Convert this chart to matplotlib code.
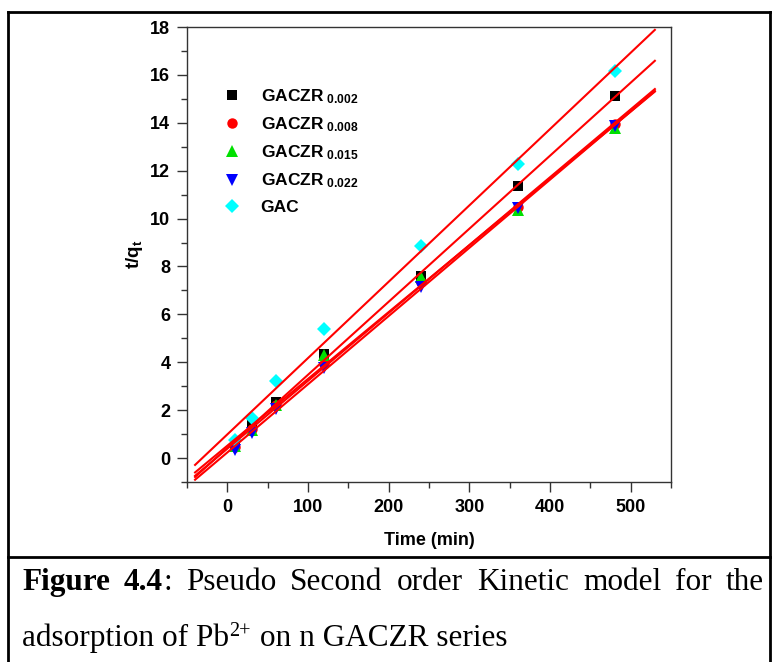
import numpy as np
import matplotlib
matplotlib.use("Agg")
import matplotlib.pyplot as plt
from matplotlib.lines import Line2D

plt.rcParams['mathtext.fontset'] = 'custom'
plt.rcParams['mathtext.rm'] = 'Liberation Sans:bold'
plt.rcParams['mathtext.bf'] = 'Liberation Sans:bold'
plt.rcParams['mathtext.it'] = 'Liberation Sans:bold'

# ---------------- data ----------------
time_min = [10, 30, 60, 120, 240, 360, 480]
series_names = ["GACZR 0.002", "GACZR 0.008", "GACZR 0.015", "GACZR 0.022", "GAC"]
gaczr_002 = [0.50, 1.39, 2.34, 4.36, 7.59, 11.36, 15.10]
gaczr_008 = [0.45, 1.20, 2.20, 3.94, 7.35, 10.50, 13.94]
gaczr_015 = [0.50, 1.18, 2.20, 4.29, 7.56, 10.35, 13.80]
gaczr_022 = [0.35, 1.04, 2.06, 3.76, 7.14, 10.45, 13.86]
gac = [0.77, 1.69, 3.20, 5.40, 8.84, 12.30, 16.15]
fit_range = [-40, 530]
x_ticks = [0, 100, 200, 300, 400, 500]
y_ticks = [0, 2, 4, 6, 8, 10, 12, 14, 16, 18]

W, H = 772, 662
fig = plt.figure(figsize=(W / 100, H / 100), dpi=100)
ax = fig.add_axes([187 / W, (H - 482) / H, 484 / W, 455 / H])

series = [gaczr_002, gaczr_008, gaczr_015, gaczr_022, gac]
styles = [
    dict(marker='s', color='black', ms=6.5),
    dict(marker='o', color='red', ms=7.5),
    dict(marker='^', color='#00e000', ms=8),
    dict(marker='v', color='blue', ms=8),
    dict(marker='D', color='cyan', ms=7),
]
sub_labels = ["0.002", "0.008", "0.015", "0.022", None]

t = np.array(time_min, dtype=float)
xf = np.array(fit_range, dtype=float)
for vals, st in zip(series, styles):
    k, b = np.polyfit(t, np.array(vals), 1)
    ax.plot(xf, k * xf + b, color='red', lw=1.5, zorder=3)
for vals, st, sub in zip(series, styles, sub_labels):
    lab = r'GACZR$_{\ \mathbf{%s}}$' % sub if sub else 'GAC'
    ax.plot(time_min, vals, linestyle='none', marker=st['marker'], color=st['color'],
            markersize=st['ms'], markeredgewidth=0, label=lab, zorder=2)

ax.set_xlim(-50, 550)
ax.set_ylim(-1, 18)
ax.set_xticks(x_ticks)
ax.set_yticks(y_ticks)
ax.set_xticks(np.arange(-50, 551, 50), minor=True)
ax.set_yticks(np.arange(-1, 18, 2), minor=True)
ax.tick_params(which='major', direction='out', length=7, width=1, color='#333333',
               labelsize=13, pad=5)
ax.tick_params(which='minor', direction='out', length=4, width=1, color='#333333')
for lab in ax.get_xticklabels() + ax.get_yticklabels():
    lab.set_fontfamily('Liberation Sans')
    lab.set_fontweight('bold')
for sp in ax.spines.values():
    sp.set_color('#333333')
    sp.set_linewidth(1)

ax.set_xlabel('Time (min)', fontsize=13, fontweight='bold', family='Liberation Sans', labelpad=12)
ax.set_ylabel(r'$\mathbf{t/q_t}$', fontsize=13.5, labelpad=4)

leg = ax.legend(loc='upper left', bbox_to_anchor=(0.032, 0.895), frameon=False,
                handletextpad=0.65, labelspacing=0.55, borderpad=0.2,
                prop={'family': 'Liberation Sans', 'weight': 'bold', 'size': 12.5})

# ---------------- frame of the figure ----------------
def fx(px):
    return px / W
def fy(py):
    return 1 - py / H
lines = [
    ((8, 8), (12, 662)),
    ((770, 770), (12, 662)),
    ((8, 770), (12, 12)),
    ((8, 770), (557, 557)),
]
for xs, ys in lines:
    fig.add_artist(Line2D([fx(xs[0]), fx(xs[1])], [fy(ys[0]), fy(ys[1])],
                          color='black', lw=2, transform=fig.transFigure))

# ---------------- caption ----------------
fig.canvas.draw()
r = fig.canvas.get_renderer()
cap_size = 22.5
serif = 'Liberation Serif'

def width_of(txt):
    bb = txt.get_window_extent(renderer=r)
    return bb.width

# line 1 justified
y1 = fy(590)
left, right = 22, 764
tokens = [("Figure", 'bold', None), ("4.4", 'bold', ":"), ("Pseudo", 'normal', None),
          ("Second", 'normal', None), ("order", 'normal', None), ("Kinetic", 'normal', None),
          ("model", 'normal', None), ("for", 'normal', None), ("the", 'normal', None)]
objs = []
total = 0
for word, wt, tail in tokens:
    t1 = fig.text(0, y1, word, fontsize=cap_size, family=serif, fontweight=wt)
    w = width_of(t1)
    t2 = None
    if tail:
        t2 = fig.text(0, y1, tail, fontsize=cap_size, family=serif)
        w2 = width_of(t2)
    else:
        w2 = 0
    objs.append((t1, w, t2, w2))
    total += w + w2
gap = (right - left - total) / (len(tokens) - 1)
xpos = left
for t1, w, t2, w2 in objs:
    t1.set_x(fx(xpos))
    if t2 is not None:
        t2.set_x(fx(xpos + w))
    xpos += w + w2 + gap

# line 2
y2 = fy(646)
a = fig.text(fx(22), y2, "adsorption of Pb", fontsize=cap_size, family=serif)
wa = width_of(a)
s = fig.text(fx(22 + wa), fy(636), "2+", fontsize=14.5, family=serif)
ws = width_of(s)
fig.text(fx(22 + wa + ws + 1), y2, " on n GACZR series", fontsize=cap_size, family=serif)

fig.savefig('out.png', dpi=100)
